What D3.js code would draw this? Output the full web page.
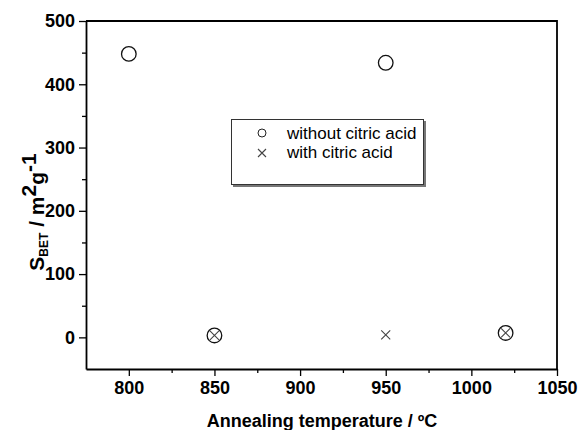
<!DOCTYPE html>
<style>
    body { margin: 0; background: #fff; }
    text { font-family: Arial, "Liberation Sans", sans-serif; }
</style>
<body>
<script src="https://d3js.org/d3.v7.min.js"></script>
<script>
    // annealing temperatures and BET surface (m2/g)
    var tempWithout = [800, 850, 950, 1020];
    var sbetWithout = [448, 3, 434, 7];
    var tempWith = [850, 950, 1020];
    var sbetWith = [3, 4, 7];
    var xTicks = [800, 850, 900, 950, 1000, 1050];
    var yTicks = [0, 100, 200, 300, 400, 500];
    var legendLabels = ["without citric acid", "with citric acid"];

    var width = 579, height = 430;
    var margin = {top: 21, right: 22, bottom: 61, left: 86};

    var svg = d3.select("body").append("svg")
        .attr("width", width)
        .attr("height", height);

    var x = d3.scaleLinear().domain([775, 1050])
        .range([margin.left, width - margin.right]);
    var y = d3.scaleLinear().domain([-50, 500])
        .range([height - margin.bottom, margin.top]);

    // minor ticks
    var xMinor = d3.range(825, 1050, 50);
    var yMinor = [50, 150, 250, 350, 450];

    svg.append("g")
        .attr("transform", "translate(0," + y(-50) + ")")
        .call(d3.axisBottom(x).tickValues(xMinor).tickSize(4).tickFormat(""))
        .call(function(g) { g.select(".domain").remove(); g.selectAll("line").attr("stroke-width", 1.3); });
    svg.append("g")
        .attr("transform", "translate(" + x(775) + ",0)")
        .call(d3.axisLeft(y).tickValues(yMinor).tickSize(4).tickFormat(""))
        .call(function(g) { g.select(".domain").remove(); g.selectAll("line").attr("stroke-width", 1.3); });

    var xAxis = svg.append("g")
        .attr("transform", "translate(0," + y(-50) + ")")
        .call(d3.axisBottom(x).tickValues(xTicks).tickFormat(d3.format("d"))
            .tickSize(7).tickSizeOuter(0).tickPadding(5));
    var yAxis = svg.append("g")
        .attr("transform", "translate(" + x(775) + ",0)")
        .call(d3.axisLeft(y).tickValues(yTicks).tickFormat(d3.format("d"))
            .tickSize(7).tickSizeOuter(0).tickPadding(4));

    [xAxis, yAxis].forEach(function(g) {
        g.select(".domain").attr("stroke-width", 1.8);
        g.selectAll("line").attr("stroke-width", 1.3);
        g.selectAll("text")
            .attr("font-family", "Arial, 'Liberation Sans', sans-serif")
            .attr("font-size", 18)
            .attr("font-weight", "bold")
            .attr("fill", "#000");
    });

    // top and right frame
    svg.append("path")
        .attr("d", "M" + x(775) + "," + y(500) + "H" + x(1050) + "V" + y(-50))
        .attr("fill", "none")
        .attr("stroke", "#000")
        .attr("stroke-width", 1.8);

    // data markers
    svg.append("g").selectAll("circle")
        .data(tempWithout)
        .join("circle")
        .attr("cx", function(d) { return x(d); })
        .attr("cy", function(d, i) { return y(sbetWithout[i]); })
        .attr("r", 7.3)
        .attr("fill", "none")
        .attr("stroke", "#111")
        .attr("stroke-width", 1.3);

    function cross(g, cx, cy, s) {
        g.append("path")
            .attr("d", "M" + (cx - s) + "," + (cy - s) + "L" + (cx + s) + "," + (cy + s) +
                "M" + (cx - s) + "," + (cy + s) + "L" + (cx + s) + "," + (cy - s))
            .attr("stroke", "#444")
            .attr("stroke-width", 1.1)
            .attr("fill", "none");
    }
    var crosses = svg.append("g");
    tempWith.forEach(function(t, i) {
        cross(crosses, x(t), y(sbetWith[i]), 4.5);
    });

    // legend
    var lg = svg.append("g");
    lg.append("rect")
        .attr("x", 233).attr("y", 121).attr("width", 193).attr("height", 66)
        .attr("fill", "#777");
    lg.append("rect")
        .attr("x", 231.5).attr("y", 119.5).attr("width", 192).attr("height", 65)
        .attr("fill", "#fff")
        .attr("stroke", "#333")
        .attr("stroke-width", 1);
    lg.append("circle")
        .attr("cx", 262).attr("cy", 133).attr("r", 4)
        .attr("fill", "none").attr("stroke", "#222").attr("stroke-width", 1);
    cross(lg, 262, 153, 4);
    lg.selectAll("text.lab")
        .data(legendLabels)
        .join("text")
        .attr("class", "lab")
        .attr("x", 287)
        .attr("y", function(d, i) { return 139 + i * 19; })
        .attr("font-size", 17)
        .attr("fill", "#000")
        .text(function(d) { return d; });

    // axis titles
    svg.append("text")
        .attr("x", 322).attr("y", 427)
        .attr("text-anchor", "middle")
        .attr("font-size", 18)
        .attr("font-weight", "bold")
        .text("Annealing temperature / ºC");

    var yt = svg.append("text")
        .attr("transform", "translate(44,212) rotate(-90)")
        .attr("text-anchor", "middle")
        .attr("font-size", 21)
        .attr("font-weight", "bold");
    yt.append("tspan").text("S");
    yt.append("tspan").attr("font-size", 12).attr("dy", 4).text("BET");
    yt.append("tspan").attr("dy", -4).text(" / m");
    yt.append("tspan").attr("dy", -8).text("2");
    yt.append("tspan").attr("dy", 8).text("g");
    yt.append("tspan").attr("dy", -8).text("-1");
</script>
</body>
